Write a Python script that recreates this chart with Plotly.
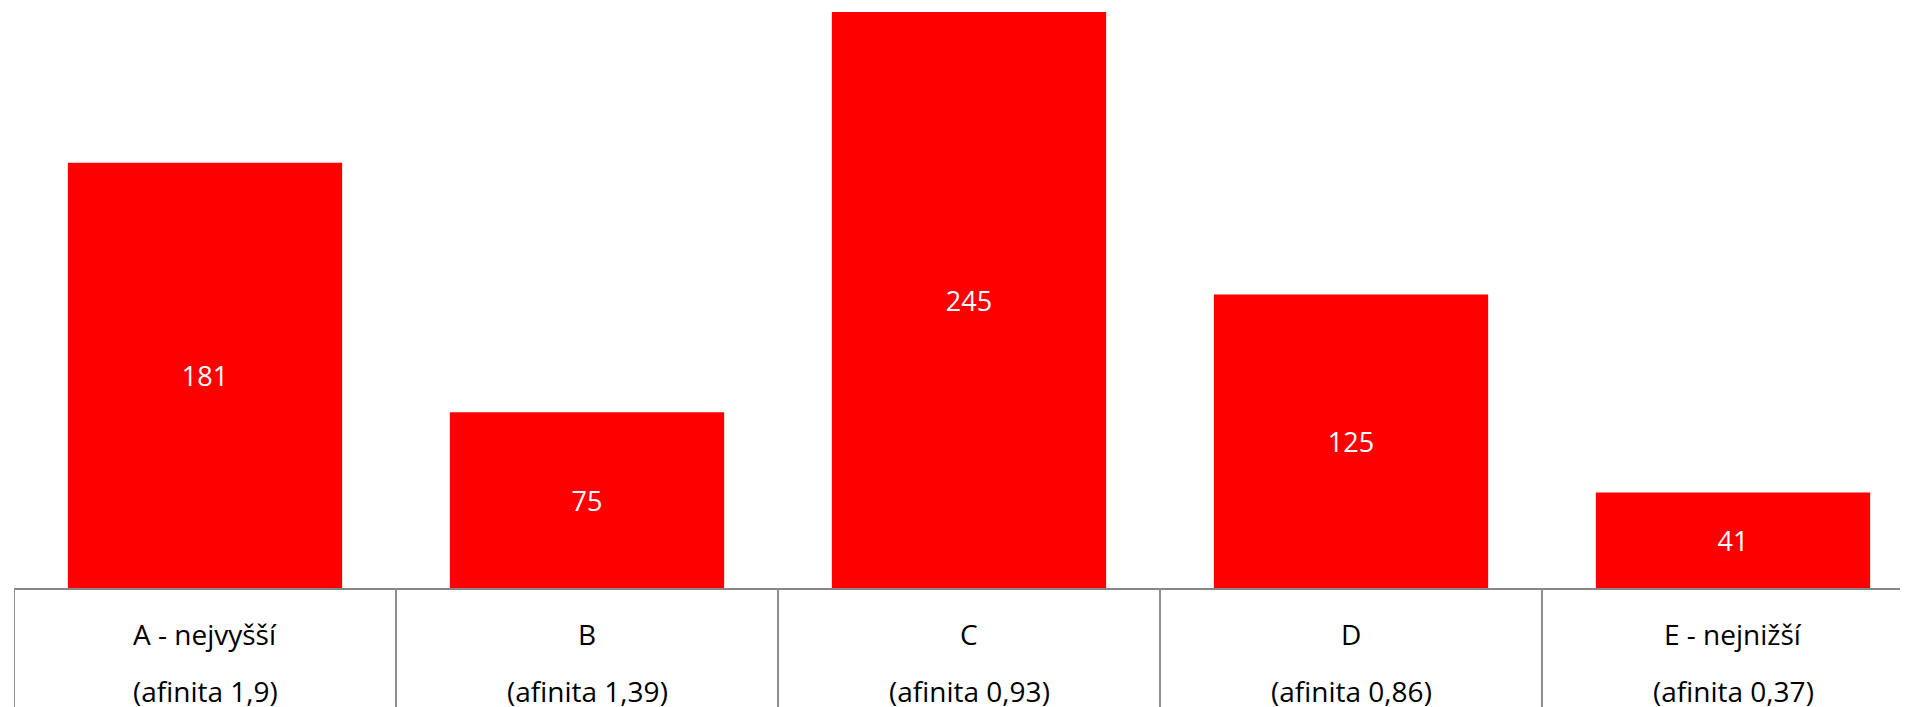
import plotly.graph_objects as go

categories = ["A - nejvyšší", "B", "C", "D", "E - nejnižší"]
affinity_labels = ["(afinita 1,9)", "(afinita 1,39)", "(afinita 0,93)", "(afinita 0,86)", "(afinita 0,37)"]
values = [181, 75, 245, 125, 41]

# page has an 8px body margin; figure coordinates = page coordinates - 8
W, H = 1900, 699
plot_bottom = 581          # baseline in figure pixels
px_per_unit = 577.0 / 245  # measured scale
y_top = plot_bottom / px_per_unit
left = 6
cat_px = 382.0
x_max = -0.5 + (W - left) / cat_px
plot_h = plot_bottom

FONT = "Open Sans"
idx = list(range(len(categories)))

fig = go.Figure()
fig.add_trace(go.Bar(
    x=idx, y=values, width=0.718,
    marker=dict(color="#ff0000", line=dict(width=0)),
    text=[str(v) for v in values],
    textposition="inside", insidetextanchor="middle",
    textfont=dict(family=FONT, size=27, color="white"),
    hoverinfo="skip",
))

shapes = []
shapes.append(dict(type="line", xref="paper", yref="paper", x0=0, x1=1, y0=0, y1=0,
                   line=dict(color="#878787", width=2)))
for i in range(len(categories) + 1):
    shapes.append(dict(type="line", xref="x", yref="paper", x0=i - 0.5, x1=i - 0.5,
                       y0=0, y1=-(H - plot_bottom + 10) / plot_h,
                       line=dict(color="#8f8f8f", width=2)))

annotations = []
for i, (c, a) in enumerate(zip(categories, affinity_labels)):
    annotations.append(dict(x=i, y=-(626 - plot_bottom) / plot_h, xref="x", yref="paper",
                            text=c, showarrow=False, yanchor="middle", xanchor="center",
                            font=dict(family=FONT, size=28, color="#000000")))
    annotations.append(dict(x=i, y=-(683 - plot_bottom) / plot_h, xref="x", yref="paper",
                            text=a, showarrow=False, yanchor="middle", xanchor="center",
                            font=dict(family=FONT, size=28, color="#000000")))

fig.update_layout(
    width=W, height=H,
    margin=dict(l=left, r=0, t=0, b=H - plot_bottom, pad=0),
    paper_bgcolor="white", plot_bgcolor="white",
    showlegend=False,
    xaxis=dict(range=[-0.5, x_max], showgrid=False, zeroline=False, showline=False,
               showticklabels=False, ticks="", fixedrange=True),
    yaxis=dict(range=[0, y_top], showgrid=False, zeroline=False, showline=False,
               showticklabels=False, ticks="", fixedrange=True),
    shapes=shapes,
    annotations=annotations,
)

fig.write_html("out.html")
